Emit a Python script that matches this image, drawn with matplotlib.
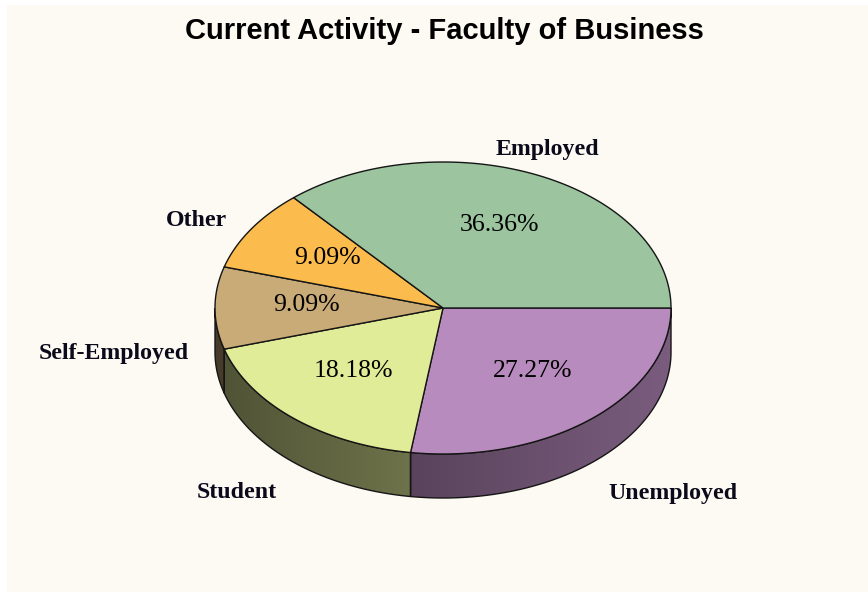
import numpy as np
import matplotlib
matplotlib.use("Agg")
import matplotlib.pyplot as plt
from matplotlib.patches import Polygon, Rectangle
from matplotlib.colors import to_rgb

# Données du graphique
categories = ["Unemployed", "Student", "Self-Employed", "Other", "Employed"]
shares = [27.27, 18.18, 9.09, 9.09, 36.36]
colors = ["#b78bbd", "#e1ec98", "#c9ab77", "#fcbb4d", "#9cc49f"]
title = "Current Activity - Faculty of Business"

# Mise en page (pixels)
W, H = 868, 596
cx, cy = 443, 308
rx, ry = 228, 146
depth = 44
label_pos = {
    "Unemployed": (673, 493),
    "Student": (237, 493),
    "Self-Employed": (114, 354),
    "Other": (196, 220),
    "Employed": (547, 149),
}


def ellipse_pts(a0, a1, dy=0, n=200):
    t = np.radians(np.linspace(a0, a1, n))
    return np.column_stack([cx + rx * np.cos(t), cy - ry * np.sin(t) + dy])


fig = plt.figure(figsize=(W / 100, H / 100), dpi=100)
fig.patch.set_facecolor("white")
ax = fig.add_axes([0, 0, 1, 1])
ax.set_xlim(0, W)
ax.set_ylim(H, 0)
ax.axis("off")
ax.add_patch(Rectangle((7, 5), W - 7, H - 9, facecolor="#fdf9f3", edgecolor="none", zorder=0))

# angles des parts (sens horaire depuis 3h)
total = sum(shares)
starts, ends = [], []
a = 0.0
for s in shares:
    starts.append(a)
    a -= 360 * s / total
    ends.append(a)

# Parois latérales (moitié avant uniquement), dégradé gauche -> droite
for start, end, col in zip(starts, ends, colors):
    lo, hi = max(end, -180), min(start, 0)
    if hi <= lo:
        continue
    top = ellipse_pts(hi, lo)
    bot = ellipse_pts(lo, hi, dy=depth)
    pts = np.vstack([top, bot])
    poly = Polygon(pts, closed=True, facecolor="none", edgecolor="none", zorder=2)
    ax.add_patch(poly)
    base = np.array(to_rgb(col))
    xmin, xmax = pts[:, 0].min(), pts[:, 0].max()
    ymin, ymax = pts[:, 1].min(), pts[:, 1].max()
    xs = np.linspace(xmin, xmax, 256)
    grad = 0.35 + 0.32 * (xs - (cx - rx)) / (2 * rx)
    img = np.clip(base[None, :] * grad[:, None], 0, 1)[None, :, :]
    im = ax.imshow(img, extent=(xmin, xmax, ymax, ymin), aspect="auto", zorder=2,
                   interpolation="bilinear")
    im.set_clip_path(poly)
    ax.add_patch(Polygon(pts, closed=True, facecolor="none", edgecolor="#151515",
                         linewidth=1.0, zorder=3))

# Faces supérieures
for start, end, col, sh in zip(starts, ends, colors, shares):
    pts = np.vstack([[cx, cy], ellipse_pts(start, end)])
    ax.add_patch(Polygon(pts, closed=True, facecolor=col, edgecolor="#151515",
                         linewidth=1.0, zorder=4))
    mid = np.radians((start + end) / 2)
    ax.text(cx + 0.6 * rx * np.cos(mid), cy - 0.6 * ry * np.sin(mid) - 3, f"{sh:.2f}%",
            ha="center", va="center", fontsize=18.5, family="Liberation Serif",
            color="black", zorder=5)

for cat in categories:
    x, y = label_pos[cat]
    ax.text(x, y, cat, ha="center", va="center", fontsize=17.2, fontweight="bold",
            family="Liberation Serif", color="#0a0a1a", zorder=5)

ax.text(444, 31, title, ha="center", va="center", fontsize=21, fontweight="bold",
        family="Liberation Sans", color="black")

fig.savefig("out.png", dpi=100, facecolor=fig.get_facecolor())
